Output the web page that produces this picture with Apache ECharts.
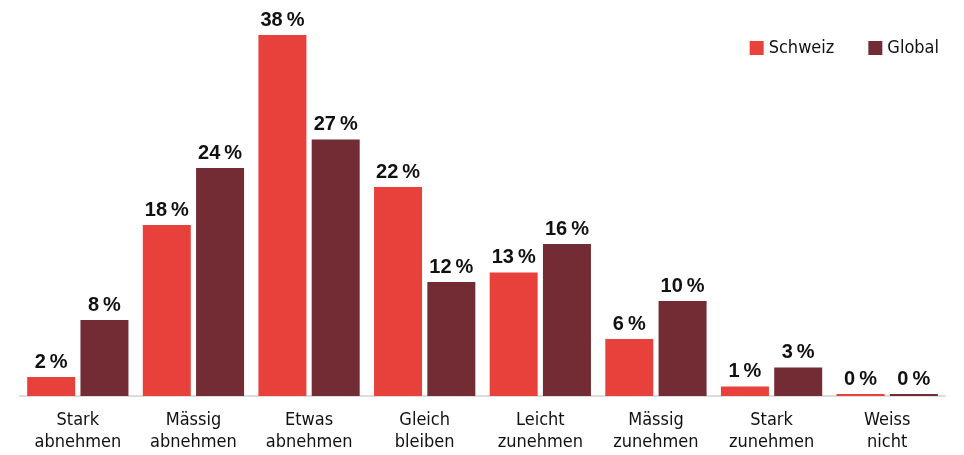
<!DOCTYPE html>
<html><head><meta charset="utf-8">
<script src="https://cdn.jsdelivr.net/npm/echarts@6/dist/echarts.min.js"></script>
<style>html,body{margin:0;padding:0;background:#fff}#c{width:964px;height:455px}</style>
</head><body><div id="c"></div>
<script>
const categories = ['Stark\nabnehmen','Mässig\nabnehmen','Etwas\nabnehmen','Gleich\nbleiben','Leicht\nzunehmen','Mässig\nzunehmen','Stark\nzunehmen','Weiss\nnicht'];
const schweiz = [2, 18, 38, 22, 13, 6, 1, 0];
const global = [8, 24, 27, 12, 16, 10, 3, 0];
const seriesNames = ['Schweiz', 'Global'];

const narrow = 'DejaVu Sans Condensed, Liberation Sans Narrow, Arial Narrow, sans-serif';
const chart = echarts.init(document.getElementById('c'));
const labelCfg = {
  show: true, position: 'top', distance: 5,
  formatter: p => p.value + '\u2009%',
  color: '#111', fontFamily: 'Liberation Sans, Arial, sans-serif', fontWeight: 'bold', fontSize: 20
};
chart.setOption({
  animation: false,
  legend: {
    right: 20, top: 34, itemWidth: 14, itemHeight: 14, itemGap: 34, icon: 'rect',
    textStyle: { fontFamily: narrow, fontSize: 18, color: '#111' },
    data: seriesNames
  },
  grid: { left: 20, right: 19, top: 35, bottom: 59 },
  xAxis: {
    type: 'category', data: categories,
    axisLine: { lineStyle: { color: '#dcdcdc', width: 2 } },
    axisTick: { show: false },
    axisLabel: { margin: 13, fontFamily: narrow, fontSize: 18, lineHeight: 22, color: '#111', interval: 0 }
  },
  yAxis: { type: 'value', min: 0, max: 38, show: false, splitLine: { show: false } },
  series: [
    { name: seriesNames[0], type: 'bar', data: schweiz, barWidth: 48, barGap: '11%', barMinHeight: 2, itemStyle: { color: '#e8403a' }, label: labelCfg },
    { name: seriesNames[1], type: 'bar', data: global, barWidth: 48, barGap: '11%', barMinHeight: 2, itemStyle: { color: '#732b34' }, label: labelCfg }
  ]
});
</script></body></html>
